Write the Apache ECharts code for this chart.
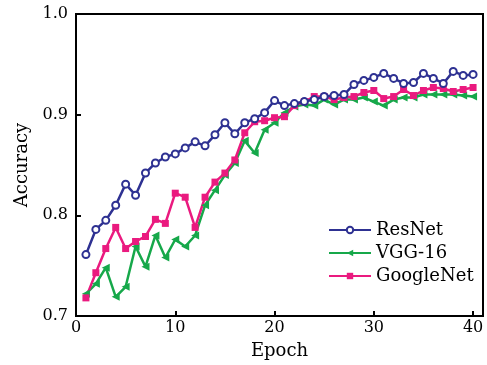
<!DOCTYPE html>
<html><head><meta charset="utf-8">
<script src="https://cdn.jsdelivr.net/npm/echarts@6/dist/echarts.min.js"></script>
<style>html,body{margin:0;padding:0;background:#fff}#c{width:487px;height:365px}</style>
</head><body><div id="c"></div>
<script>
const epochs = [1,2,3,4,5,6,7,8,9,10,11,12,13,14,15,16,17,18,19,20,21,22,23,24,25,26,27,28,29,30,31,32,33,34,35,36,37,38,39,40];
const resnet = [0.761,0.786,0.795,0.810,0.831,0.820,0.842,0.852,0.858,0.861,0.867,0.873,0.869,0.880,0.892,0.881,0.892,0.896,0.902,0.914,0.909,0.911,0.913,0.915,0.918,0.919,0.920,0.930,0.934,0.937,0.941,0.936,0.931,0.932,0.941,0.936,0.931,0.943,0.939,0.940];
const vgg16 = [0.722,0.732,0.748,0.719,0.729,0.769,0.749,0.780,0.758,0.776,0.769,0.780,0.810,0.825,0.840,0.852,0.874,0.862,0.885,0.892,0.902,0.908,0.910,0.909,0.915,0.910,0.915,0.915,0.917,0.913,0.909,0.915,0.917,0.917,0.920,0.920,0.920,0.920,0.919,0.918];
const googlenet = [0.718,0.743,0.767,0.788,0.767,0.774,0.779,0.796,0.792,0.822,0.818,0.788,0.818,0.833,0.842,0.855,0.882,0.893,0.894,0.897,0.898,0.909,0.913,0.918,0.918,0.915,0.917,0.918,0.922,0.924,0.916,0.918,0.925,0.919,0.924,0.927,0.926,0.923,0.925,0.927];
const seriesNames = ['ResNet','VGG-16','GoogleNet'];
const yTicks = [0.7,0.8,0.9,1.0];
const xTicks = [0,10,20,30,40];

const font = 'DejaVu Serif';
const pair = arr => epochs.map((e,i)=>[e,arr[i]]);
const chart = echarts.init(document.getElementById('c'), null, {renderer:'canvas'});
chart.setOption({
  animation:false,
  backgroundColor:'#fff',
  grid:{left:76,right:4,top:14,bottom:49,show:true,borderColor:'#000',borderWidth:2,backgroundColor:'transparent'},
  legend:{
    orient:'vertical', left:328, top:219, itemWidth:42, itemHeight:8, itemGap:5, padding:[2,2,2,0],
    data:seriesNames,
    textStyle:{fontFamily:font,fontSize:18,color:'#000',padding:[0,0,0,0]},
    backgroundColor:'#fff'
  },
  xAxis:{
    type:'value', min:0, max:41, interval:10,
    name:'Epoch', nameLocation:'middle', nameGap:26,
    nameTextStyle:{fontFamily:font,fontSize:18,color:'#000'},
    axisLine:{show:true,lineStyle:{color:'#000',width:2}},
    axisTick:{show:true,inside:true,length:5,lineStyle:{color:'#000',width:2},
      customValues:xTicks},
    axisLabel:{fontFamily:font,fontSize:16,color:'#000',margin:4,
      customValues:xTicks},
    splitLine:{show:false}
  },
  yAxis:{
    type:'value', min:0.7, max:1.0, interval:0.1,
    name:'Accuracy', nameLocation:'middle', nameGap:44,
    nameTextStyle:{fontFamily:font,fontSize:18,color:'#000'},
    axisLine:{show:true,lineStyle:{color:'#000',width:2}},
    axisTick:{show:true,inside:true,length:5,lineStyle:{color:'#000',width:2},customValues:yTicks},
    axisLabel:{fontFamily:font,fontSize:16,color:'#000',margin:8,customValues:yTicks,
      formatter:v=>Number(v).toFixed(1)},
    splitLine:{show:false}
  },
  series:[
    {name:seriesNames[0],type:'line',data:pair(resnet),symbol:'circle',symbolSize:7,
     lineStyle:{color:'#2e3192',width:2.5},itemStyle:{color:'#fff',borderColor:'#2e3192',borderWidth:2},z:3},
    {name:seriesNames[1],type:'line',data:pair(vgg16),symbol:'triangle',symbolSize:8,symbolRotate:90,
     lineStyle:{color:'#16a84a',width:2.5},itemStyle:{color:'#16a84a'},z:2},
    {name:seriesNames[2],type:'line',data:pair(googlenet),symbol:'rect',symbolSize:7,
     lineStyle:{color:'#ea1a7f',width:2.5},itemStyle:{color:'#ea1a7f'},z:2}
  ]
});
</script></body></html>
